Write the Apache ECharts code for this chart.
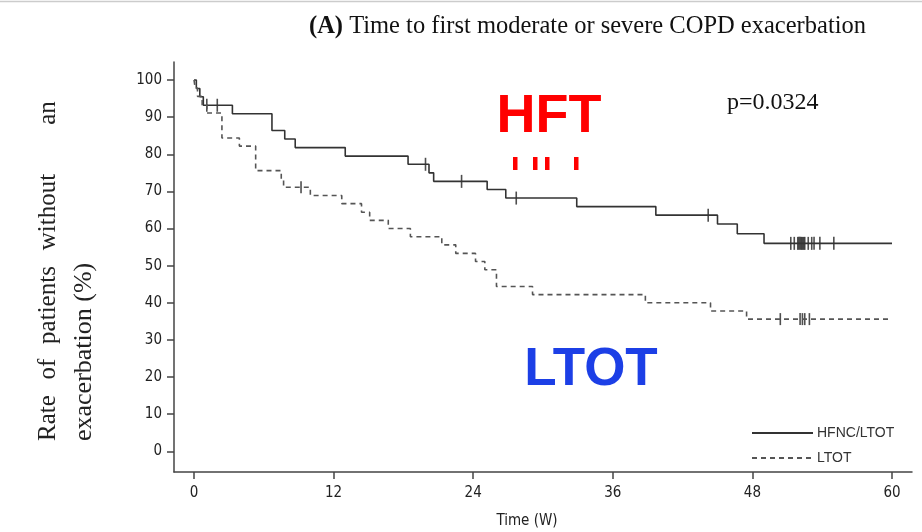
<!DOCTYPE html>
<html>
<head>
<meta charset="utf-8">
<script src="https://cdn.jsdelivr.net/npm/echarts@6/dist/echarts.min.js"></script>
<style>
  html, body { margin: 0; padding: 0; background: #fff; }
  #chart { width: 922px; height: 532px; }
</style>
</head>
<body>
<div id="chart"></div>
<script>
// Kaplan-Meier estimates: event times (weeks) and survival after each drop (%)
const hfncTime = [0, 0.2, 0.5, 0.8, 3.3, 6.7, 7.8, 8.7, 13.0, 18.4, 20.2, 20.6, 25.2, 26.8, 32.9, 39.7, 45.0, 46.7, 49.0, 60];
const hfncSurv = [100, 97.7, 95.5, 93.2, 90.9, 86.4, 84.1, 81.8, 79.5, 77.3, 75.0, 72.7, 70.5, 68.2, 65.9, 63.6, 61.2, 58.6, 56.0, 56.0];
const hfncCensor = [1.1, 2.0, 19.9, 23.0, 27.7, 44.2, 51.3, 51.6, 51.9, 52.0, 52.1, 52.2, 52.3, 52.4, 52.5, 52.8, 53.1, 53.3, 53.8, 55.0];

const ltotTime = [0, 0.1, 0.3, 0.7, 1.1, 2.4, 3.9, 5.3, 7.5, 7.7, 10.0, 12.7, 14.4, 15.1, 16.7, 18.6, 21.3, 22.5, 24.2, 25.0, 26.0, 29.1, 38.8, 44.4, 47.5, 60];
const ltotSurv = [100, 97.8, 95.6, 93.3, 91.1, 84.4, 82.2, 75.6, 73.3, 71.1, 68.9, 66.7, 64.4, 62.2, 60.0, 57.8, 55.6, 53.3, 51.1, 48.9, 44.4, 42.2, 40.0, 37.8, 35.6, 35.6];
const ltotCensor = [9.2, 50.4, 52.1, 52.3, 52.5, 52.9];

const seriesNames = ['HFNC/LTOT', 'LTOT'];
const xTicks = [0, 12, 24, 36, 48, 60];
const yTicks = [0, 10, 20, 30, 40, 50, 60, 70, 80, 90, 100];

const pValueText = 'p=0.0324';
const titleBold = '(A)';
const titleRest = 'Time to first moderate or severe COPD exacerbation';
const xName = 'Time (W)';
const yNameWords = ['Rate', 'of', 'patients', 'without', 'an'];
const yNameLine2 = 'exacerbation (%)';

// survival level at time t (right-continuous step function)
function survAt(times, surv, t) {
  let v = surv[0];
  for (let i = 0; i < times.length; i++) { if (times[i] <= t) v = surv[i]; }
  return v;
}
const pairs = (xs, ys) => xs.map((x, i) => [x, ys[i]]);
const censorPts = (c, times, surv) => c.map(t => [t, survAt(times, surv, t)]);

const serif = '"Liberation Serif", "Times New Roman", serif';
const narrow = '"Liberation Sans Narrow", "Arial Narrow", "DejaVu Sans Condensed", sans-serif';
const sans = '"Liberation Sans", Arial, sans-serif';

const chart = echarts.init(document.getElementById('chart'), null, { renderer: 'canvas' });

// rotated y-axis caption, first line spread word by word
const yWordCenters = [418, 369, 305, 212, 113];
const yNameGraphics = yNameWords.map((w, i) => ({
  type: 'text', x: 48, y: yWordCenters[i], rotation: Math.PI / 2,
  style: { text: w, font: '25px ' + serif, fill: '#222', align: 'center', verticalAlign: 'middle' }
}));

const option = {
  animation: false,
  backgroundColor: '#fff',
  title: {
    text: '{b|' + titleBold + '} ' + titleRest,
    left: 304, top: 9,
    textStyle: {
      fontFamily: serif, fontSize: 24.5, fontWeight: 'normal', color: '#111',
      rich: { b: { fontFamily: serif, fontSize: 24.5, fontWeight: 'bold', color: '#111' } }
    }
  },
  legend: {
    data: seriesNames,
    orient: 'vertical',
    left: 746, top: 421,
    itemWidth: 61, itemHeight: 14, itemGap: 11,
    itemStyle: { opacity: 0 },
    textStyle: { fontFamily: sans, fontSize: 14, color: '#333', padding: [0, 0, 0, -1] }
  },
  grid: { left: 174, right: 10, top: 62, bottom: 60, containLabel: false, outerBoundsMode: 'none' },
  xAxis: {
    type: 'value', min: -1.72, max: 61.72,
    axisLine: { onZero: false, lineStyle: { color: '#444', width: 1.5 } },
    axisTick: { show: true, length: 7, lineStyle: { color: '#444', width: 1.5 }, customValues: xTicks },
    axisLabel: { customValues: xTicks, margin: 14, fontFamily: narrow, fontSize: 15, color: '#222' },
    splitLine: { show: false }
  },
  yAxis: {
    type: 'value', min: -5.58, max: 104.85,
    axisLine: { show: true, onZero: false, lineStyle: { color: '#444', width: 1.5 } },
    axisTick: { show: true, length: 7, lineStyle: { color: '#444', width: 1.5 }, customValues: yTicks },
    axisLabel: { customValues: yTicks, margin: 12, fontFamily: narrow, fontSize: 15, color: '#222' },
    splitLine: { show: false }
  },
  series: [
    {
      name: seriesNames[0], type: 'line', step: 'end', symbol: 'none',
      data: pairs(hfncTime, hfncSurv),
      lineStyle: { color: '#333', width: 1.6, type: 'solid' },
      itemStyle: { color: '#333' }
    },
    {
      name: seriesNames[1], type: 'line', step: 'end', symbol: 'none',
      data: pairs(ltotTime, ltotSurv),
      lineStyle: { color: '#555', width: 1.6, type: [5, 4] },
      itemStyle: { color: '#555' }
    },
    {
      name: 'hfncCensored', type: 'scatter', symbol: 'rect', symbolSize: [1.6, 13],
      data: censorPts(hfncCensor, hfncTime, hfncSurv),
      itemStyle: { color: '#222' }, silent: true
    },
    {
      name: 'ltotCensored', type: 'scatter', symbol: 'rect', symbolSize: [1.6, 12],
      data: censorPts(ltotCensor, ltotTime, ltotSurv),
      itemStyle: { color: '#222' }, silent: true
    }
  ],
  graphic: [
    { type: 'line', shape: { x1: 0, y1: 1.5, x2: 922, y2: 1.5 }, style: { stroke: '#ccc', lineWidth: 1.5 } },
    { type: 'text', x: 727, y: 103, style: { text: pValueText, font: '24px ' + serif, fill: '#111', align: 'left', verticalAlign: 'middle' } },
    { type: 'text', x: 549, y: 117, style: { text: 'HFT', font: 'bold 54px ' + sans, fill: '#ff0000', align: 'center', verticalAlign: 'middle' } },
    { type: 'rect', shape: { x: 513, y: 157, width: 4.5, height: 13 }, style: { fill: '#ff0000' } },
    { type: 'rect', shape: { x: 533, y: 157, width: 4.5, height: 13 }, style: { fill: '#ff0000' } },
    { type: 'rect', shape: { x: 545, y: 157, width: 4.5, height: 13 }, style: { fill: '#ff0000' } },
    { type: 'rect', shape: { x: 574, y: 157, width: 4.5, height: 13 }, style: { fill: '#ff0000' } },
    { type: 'text', x: 591, y: 370, style: { text: 'LTOT', font: 'bold 53px ' + sans, fill: '#1c3fe6', align: 'center', verticalAlign: 'middle' } },
    { type: 'text', x: 527, y: 521, style: { text: xName, font: '15px ' + narrow, fill: '#222', align: 'center', verticalAlign: 'middle' } },
    ...yNameGraphics,
    { type: 'text', x: 84, y: 441, rotation: Math.PI / 2,
      style: { text: yNameLine2, font: '26px ' + serif, fill: '#222', align: 'left', verticalAlign: 'middle' } }
  ]
};

chart.setOption(option);
</script>
</body>
</html>
